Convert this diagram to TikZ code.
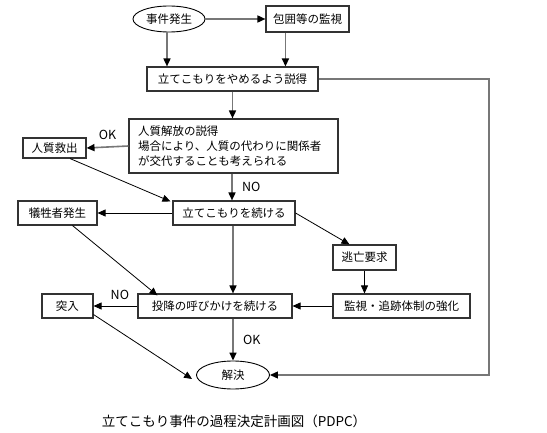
\documentclass[tikz,border=0pt]{standalone}
\usepackage{fontspec}
\setmainfont{Noto Sans CJK JP}
\usetikzlibrary{arrows.meta,shapes.geometric}
\definecolor{lgray}{HTML}{777777}
\definecolor{bord}{HTML}{333333}
\begin{document}
\begin{tikzpicture}[x=1pt,y=-1pt,
  every node/.style={font=\fontsize{11.5}{15}\selectfont},
  box/.style={draw=bord,line width=1.1pt,inner sep=0pt,minimum height=24pt},
  oval/.style={draw=black,line width=0.9pt,ellipse,inner sep=0pt,minimum height=26pt,minimum width=72pt},
  tip/.style={-{Triangle[length=8pt,width=7pt,color=black]}},
  gline/.style={tip,draw=lgray,line width=1.6pt},
  bline/.style={tip,draw=black,line width=0.8pt},
  lbl/.style={font=\fontsize{12.5}{14}\selectfont}]
\useasboundingbox (0,0) rectangle (547,433);
% nodes
\node[oval] (ev) at (169,19) {事件発生};
\node[box,minimum width=83pt,minimum height=26pt] (mon) at (307.5,19) {包囲等の監視};
\node[box,minimum width=171pt] (per) at (232.5,79) {立てこもりをやめるよう説得};
\node[box,minimum width=209pt,minimum height=54pt,text width=191pt,align=left] (hos) at (233.5,146)
  {人質解放の説得\\場合により、人質の代わりに関係者\\が交代することも考えられる};
\node[box,minimum width=63pt,minimum height=20pt] (res) at (54.5,148) {人質救出};
\node[box,minimum width=122pt] (cont) at (234,213) {立てこもりを続ける};
\node[box,minimum width=79pt] (vic) at (57.5,213) {犠牲者発生};
\node[box,minimum width=63pt,minimum height=25pt] (esc) at (364.5,257.5) {逃亡要求};
\node[box,minimum width=137pt] (sur) at (401.5,306) {監視・追跡体制の強化};
\node[box,minimum width=154pt] (call) at (215,306) {投降の呼びかけを続ける};
\node[box,minimum width=51pt] (raid) at (67.5,306) {突入};
\node[oval,minimum width=73pt,minimum height=28pt] (sol) at (233,375) {解決};
\coordinate (loopA) at (489,79);
\coordinate (loopB) at (489,375);
% connectors
\draw[gline] (ev.east) -- (mon.west);
\draw[gline] ([xshift=-2pt]ev.south) -- ([xshift=-2pt]ev.south |- per.north);
\draw[gline] ([xshift=20pt]mon.south west) -- ([xshift=20pt]mon.south west |- per.north);
\draw[gline] (per.south) -- (per.south |- hos.north);
\draw[tip,draw=lgray,line width=1.2pt] (per.east) -- (loopA) -- (loopB) -- (sol.east);
\draw[gline] (hos.west) -- (res.east) node[lbl,midway,above=3pt] {OK};
\draw[bline] ([xshift=15.5pt]res.south) -- ([xshift=-2pt,yshift=-1pt]cont.north west);
\draw[gline] ([xshift=-1.5pt]hos.south) -- ([xshift=-1.5pt]hos.south |- cont.north) node[lbl,midway,right=6pt] {NO};
\draw[bline] (cont.west) -- (vic.east);
\draw[bline] (cont.east) -- ([xshift=-15pt]esc.north);
\draw[bline] (esc.south) -- (esc.south |- sur.north);
\draw[bline] ([xshift=15pt]vic.south) -- ([xshift=20pt,yshift=-2pt]call.north west);
\draw[gline] ([xshift=-1pt]cont.south) -- ([xshift=-1pt]cont.south |- call.north);
\draw[bline] (sur.west) -- (call.east);
\draw[bline] (call.west) -- (raid.east) node[lbl,pos=0.4,above=3pt] {NO};
\draw[gline] (sol.north |- call.south) -- (sol.north) node[lbl,midway,right=6pt] {OK};
\draw[bline] ([yshift=4pt]raid.south east) -- ([xshift=-4pt,yshift=-4pt]sol.west);
% caption
\node[font=\fontsize{13.5}{15}\selectfont] (cap) at (234,421) {立てこもり事件の過程決定計画図（PDPC）};
\end{tikzpicture}
\end{document}
